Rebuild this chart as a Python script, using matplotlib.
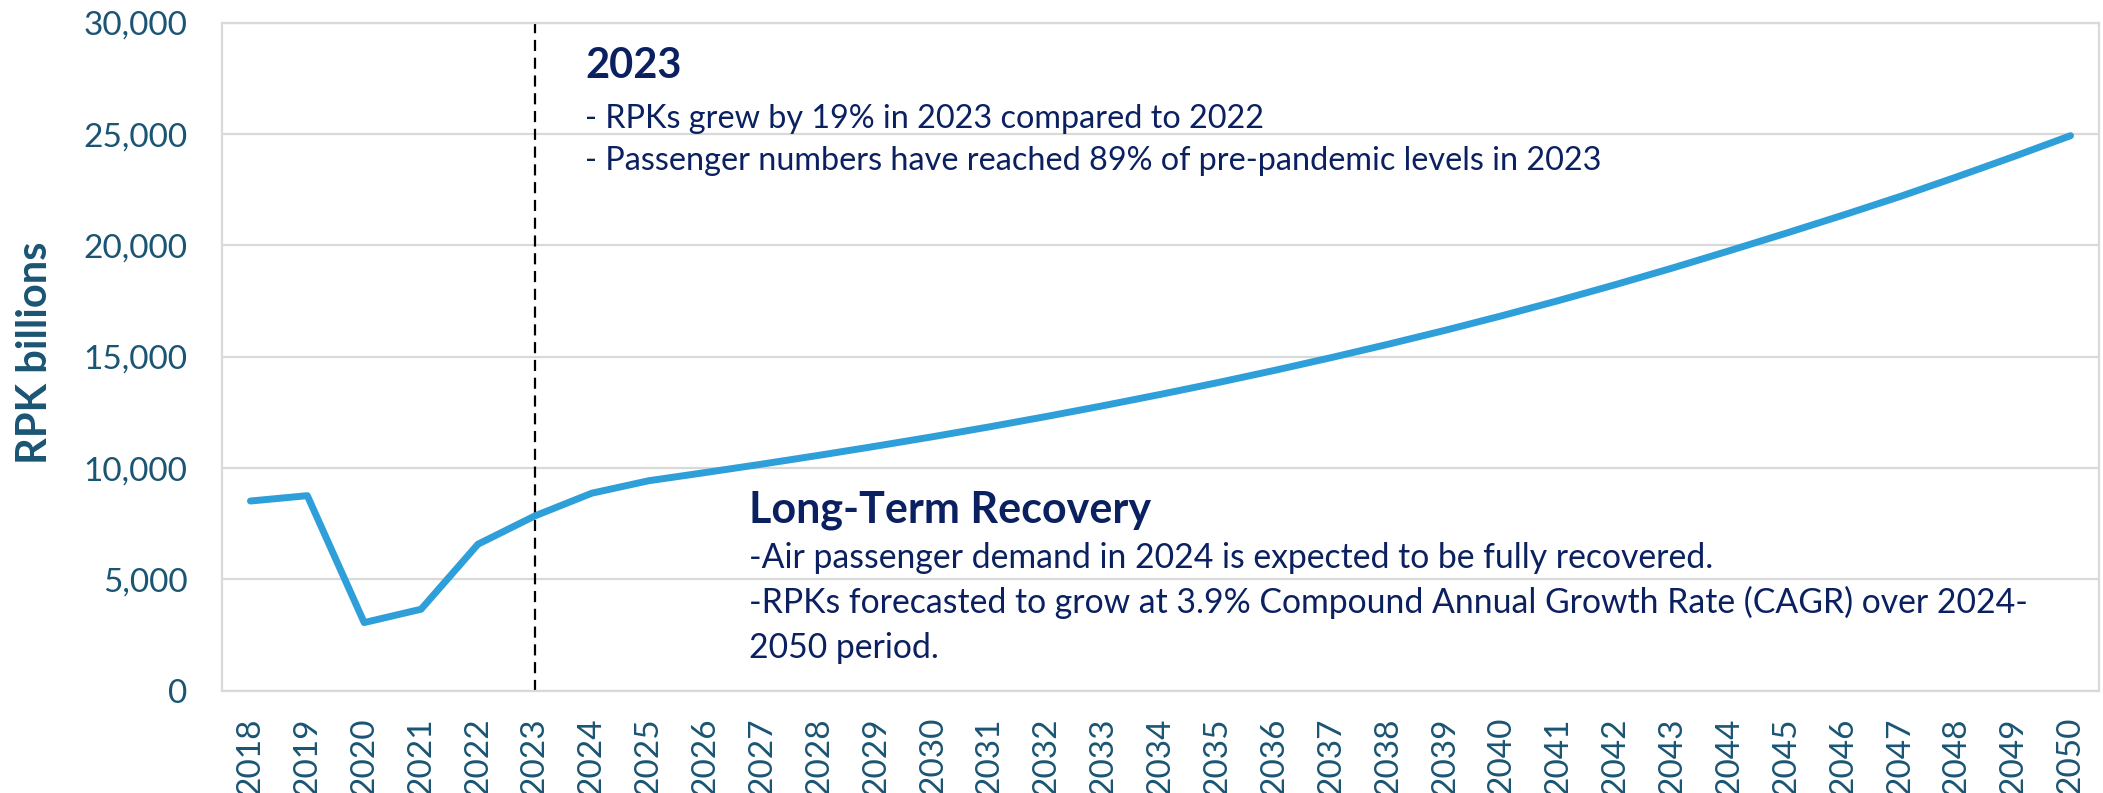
import matplotlib
matplotlib.use("Agg")
import matplotlib.pyplot as plt

# Data (RPK, billions)
years = [str(y) for y in range(2018, 2051)]
rpk = [8520, 8760, 3060, 3660, 6580, 7850, 8870, 9430, 9800, 10180,
       10575, 10985, 11410, 11855, 12320, 12805, 13310, 13835, 14385, 14960,
       15560, 16185, 16840, 17525, 18240, 18985, 19760, 20550, 21360, 22195,
       23080, 23990, 24930]
y_ticks = [0, 5000, 10000, 15000, 20000, 25000, 30000]
marker_year = "2023"

heading_2023 = "2023"
notes_2023 = ["- RPKs grew by 19% in 2023 compared to 2022",
              "- Passenger numbers have reached 89% of pre-pandemic levels in 2023"]
heading_long = "Long-Term Recovery"
notes_long = ["-Air passenger demand in 2024 is expected to be fully recovered.",
              "-RPKs forecasted to grow at 3.9% Compound Annual Growth Rate (CAGR) over 2024-",
              "2050 period."]

# Colours
line_col = "#2E9FD9"
tick_col = "#1A5573"
note_col = "#0B2060"
grid_col = "#D9D9D9"

W, H = 2103, 793
fig = plt.figure(figsize=(W / 100, H / 100), dpi=100)
ax = fig.add_axes([222 / W, 1 - 690.7 / H, (2099 - 222) / W, (690.7 - 22.8) / H])

x = list(range(len(years)))
ax.plot(x, rpk, color=line_col, lw=5, solid_joinstyle="round", solid_capstyle="round", zorder=3)
ax.axvline(years.index(marker_year), color="black", lw=1.6, ls=(0, (5, 3)), zorder=2)

ax.set_xlim(-0.5, len(years) - 0.5)
ax.set_ylim(0, 30000)
ax.set_yticks(y_ticks)
ax.set_yticklabels([f"{v:,}" for v in y_ticks])
ax.set_xticks(x)
ax.set_xticklabels(years, rotation=90)
ax.tick_params(axis="both", length=0, labelcolor=tick_col, labelsize=24)
ax.tick_params(axis="y", pad=25)
ax.tick_params(axis="x", pad=19)
for lab in ax.get_xticklabels() + ax.get_yticklabels():
    lab.set_family("Lato")

ax.yaxis.grid(True, color=grid_col, lw=1.6, zorder=0)
ax.set_axisbelow(True)
for s in ax.spines.values():
    s.set_color(grid_col)
    s.set_linewidth(1.6)

fig.text(35 / W, 1 - 353 / H, "RPK billions", rotation=90, ha="center", va="center",
         family="Lato", weight="bold", size=30, color=tick_col)

# 2023 annotation block
fig.text(585 / W, 1 - 78 / H, heading_2023, ha="left", va="baseline",
         family="Lato", weight="bold", size=30, color=note_col)
for i, line in enumerate(notes_2023):
    fig.text(585 / W, 1 - (128 + 42 * i) / H, line, ha="left", va="baseline",
             family="Lato", size=23.3, color=note_col)

# Long-term block
fig.text(749 / W, 1 - 523 / H, heading_long, ha="left", va="baseline",
         family="Lato", weight="bold", size=31, color=note_col)
for i, line in enumerate(notes_long):
    fig.text(749 / W, 1 - (568 + 45 * i) / H, line, ha="left", va="baseline",
             family="Lato", size=24.3, color=note_col)

fig.savefig("out.png", dpi=100)
